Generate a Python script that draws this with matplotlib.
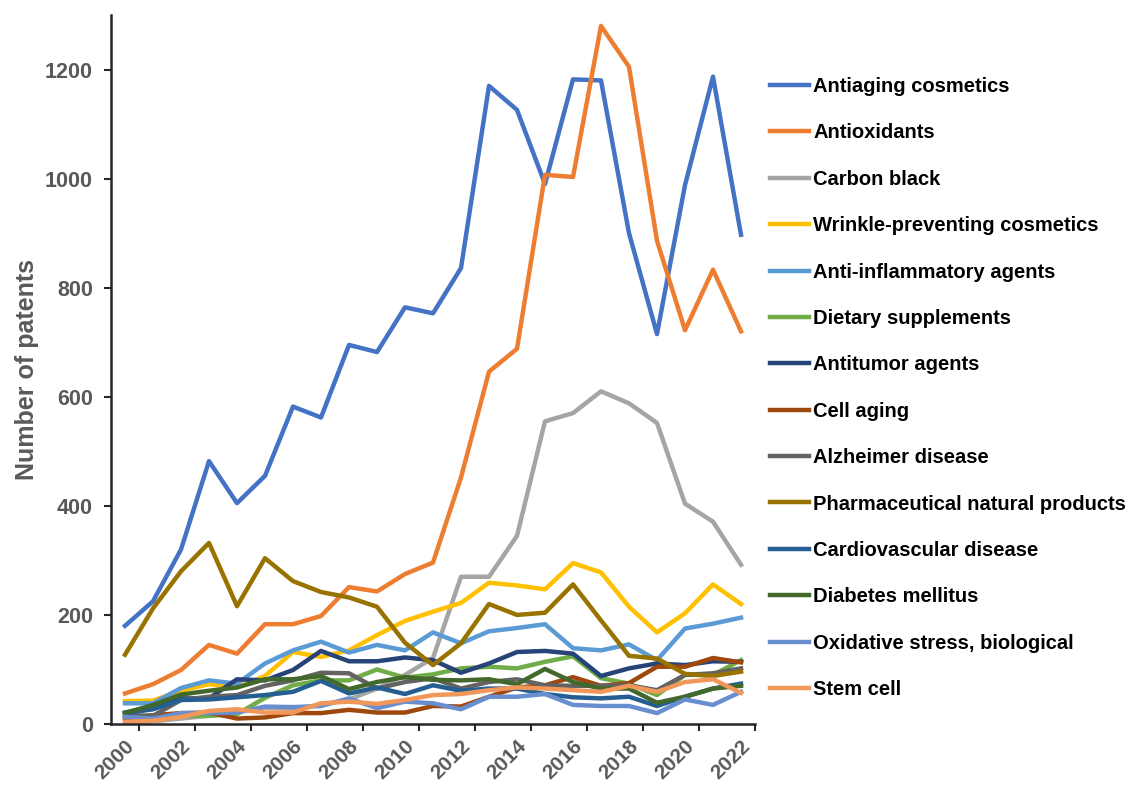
import numpy as np
import matplotlib
matplotlib.use("Agg")
import matplotlib.pyplot as plt

plt.rcParams['font.family'] = ['Liberation Sans', 'DejaVu Sans']

years = list(range(2000, 2023))

antiaging = [180, 225, 320, 482, 405, 455, 582, 562, 695, 682, 764, 753, 836, 1170, 1126, 990, 1182, 1180, 900, 715, 988, 1187, 897]
antioxidants = [56, 73, 99, 145, 129, 183, 183, 198, 251, 243, 275, 296, 452, 646, 688, 1007, 1003, 1280, 1205, 886, 722, 833, 720]
carbon_black = [5, 5, 10, 15, 22, 30, 28, 35, 45, 65, 90, 121, 270, 270, 345, 555, 570, 610, 588, 552, 404, 371, 292]
wrinkle = [42, 43, 61, 73, 67, 88, 132, 123, 135, 163, 189, 206, 222, 259, 254, 247, 295, 278, 215, 168, 203, 256, 220]
anti_inflam = [38, 38, 66, 80, 74, 111, 135, 151, 131, 145, 135, 168, 148, 170, 176, 183, 139, 135, 146, 117, 175, 184, 195]
dietary = [15, 15, 15, 15, 18, 48, 71, 80, 80, 100, 85, 91, 102, 105, 102, 114, 124, 84, 74, 53, 90, 90, 117]
antitumor = [21, 32, 47, 47, 82, 80, 99, 134, 115, 115, 122, 117, 94, 111, 132, 134, 129, 88, 102, 111, 108, 115, 114]
cell_aging = [10, 16, 20, 21, 10, 12, 20, 20, 26, 21, 21, 33, 32, 50, 67, 71, 86, 70, 75, 105, 105, 121, 113]
alzheimer = [16, 15, 44, 50, 53, 70, 80, 94, 93, 65, 77, 84, 65, 77, 82, 71, 70, 70, 71, 62, 90, 93, 102]
pharma = [127, 212, 280, 332, 216, 304, 262, 242, 232, 215, 149, 108, 148, 220, 200, 204, 256, 190, 125, 120, 92, 88, 96]
cardio = [20, 27, 44, 45, 49, 53, 59, 79, 56, 67, 55, 71, 61, 65, 65, 55, 49, 47, 50, 33, 50, 65, 74]
diabetes = [20, 35, 54, 61, 67, 82, 82, 88, 64, 77, 86, 81, 80, 82, 73, 101, 77, 65, 65, 39, 50, 65, 70]
oxidative = [13, 10, 20, 20, 21, 32, 31, 33, 47, 29, 41, 38, 27, 50, 50, 55, 35, 33, 33, 20, 45, 35, 59]
stem_cell = [4, 6, 13, 24, 27, 21, 21, 38, 41, 37, 44, 53, 55, 62, 67, 65, 62, 59, 70, 59, 77, 82, 57]

series = [
    ("Antiaging cosmetics", antiaging, "#4472C4"),
    ("Antioxidants", antioxidants, "#ED7D31"),
    ("Carbon black", carbon_black, "#A5A5A5"),
    ("Wrinkle-preventing cosmetics", wrinkle, "#FFC000"),
    ("Anti-inflammatory agents", anti_inflam, "#5B9BD5"),
    ("Dietary supplements", dietary, "#70AD47"),
    ("Antitumor agents", antitumor, "#264478"),
    ("Cell aging", cell_aging, "#9E480E"),
    ("Alzheimer disease", alzheimer, "#636363"),
    ("Pharmaceutical natural products", pharma, "#997300"),
    ("Cardiovascular disease", cardio, "#255E91"),
    ("Diabetes mellitus", diabetes, "#43682B"),
    ("Oxidative stress, biological", oxidative, "#698ED0"),
    ("Stem cell", stem_cell, "#F1975A"),
]

fig = plt.figure(figsize=(11.27, 7.85), dpi=100)
ax = fig.add_axes([111 / 1127, 61 / 785, 644 / 1127, 709 / 785])

x = np.arange(len(years))
for name, vals, col in series:
    ax.plot(x, vals, color=col, lw=3.2, label=name, solid_joinstyle='round')

grey = "#595959"
ax.set_xlim(-0.5, len(years) - 0.5)
ax.set_ylim(0, 1300)
ax.set_yticks(np.arange(0, 1201, 200))
ax.tick_params(axis='y', direction='out', length=5, width=1.5, colors='#262626',
               labelcolor=grey, labelsize=15.5, pad=8)

# year labels on every other category, tick marks between categories
ax.set_xticks(x[::2])
ax.set_xticklabels([str(y) for y in years[::2]], rotation=45, ha='right',
                   rotation_mode='anchor')
ax.set_xticks(np.arange(0.5, len(years), 2), minor=True)
ax.tick_params(axis='x', which='major', length=0, labelcolor=grey, labelsize=15, pad=9)
ax.tick_params(axis='x', which='minor', direction='out', length=5, width=1.5, colors='#262626')
for lab in ax.get_xticklabels() + ax.get_yticklabels():
    lab.set_fontweight('bold')

for side in ('top', 'right'):
    ax.spines[side].set_visible(False)
for side in ('left', 'bottom'):
    ax.spines[side].set_linewidth(1.8)
    ax.spines[side].set_color('#262626')

ax.set_ylabel("Number of patents", fontsize=18, fontweight='bold', color=grey, labelpad=4)

leg = fig.legend(loc='upper left', bbox_to_anchor=(770 / 1127, 1 - 77 / 785),
                 frameon=False, borderpad=0, borderaxespad=0, handlelength=1.95,
                 handletextpad=0.2, labelspacing=1.36,
                 prop={'size': 14.5, 'weight': 'bold'})
for line in leg.get_lines():
    line.set_linewidth(3.2)

fig.savefig("out.png", dpi=100)
